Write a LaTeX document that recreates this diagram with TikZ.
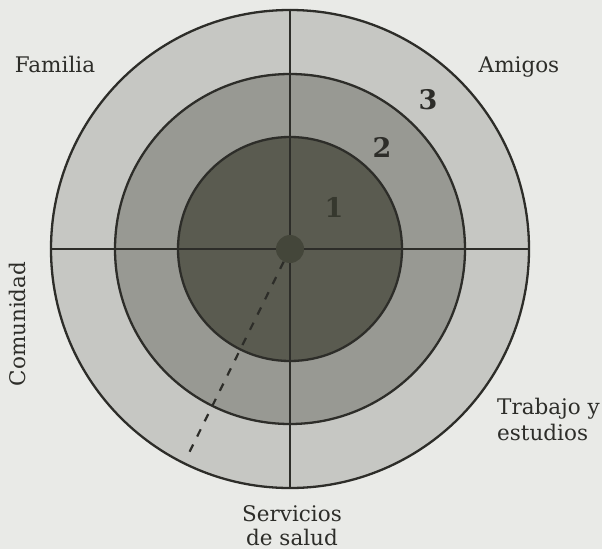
\documentclass[tikz,border=0pt]{standalone}
\usepackage{fontspec}
\setmainfont{DejaVu Serif}
\usetikzlibrary{positioning}
\definecolor{paper}{RGB}{233,234,231}
\definecolor{ringout}{RGB}{198,199,195}
\definecolor{ringmid}{RGB}{152,153,147}
\definecolor{ringin}{RGB}{90,91,80}
\definecolor{hubc}{RGB}{68,70,58}
\definecolor{ink}{RGB}{45,45,41}

\begin{document}
\begin{tikzpicture}[
  x=1pt, y=-1pt,
  ring/.style={circle, draw=ink, line width=2.3pt, inner sep=0pt},
  axis/.style={draw=ink, line width=2.3pt},
  lbl/.style={text=ink, font=\fontsize{21.5}{26}\selectfont, inner sep=0pt},
  num/.style={text=ink, font=\fontsize{27}{27}\selectfont\bfseries, inner sep=0pt}
]
\fill[paper] (0,0) rectangle (602,549);
\coordinate (c) at (290,249);
% the three rings
\node[ring, fill=ringout, minimum size=478pt] (outer) at (c) {};
\node[ring, fill=ringmid, minimum size=350pt] (mid) at (c) {};
\node[ring, fill=ringin, minimum size=224pt] (inner) at (c) {};
\draw[axis] (outer.north) -- (outer.south);
\draw[axis] (outer.west) -- (outer.east);
\node[circle, fill=hubc, minimum size=28pt, inner sep=0pt] (hub) at (c) {};
\coordinate (tip) at (187,457);
\draw[ink, line width=2.2pt, dash pattern=on 8pt off 9pt] (hub) -- (tip);
% ring numbers
\node[num] (n3) at (428,100) {3};
\node[num] (n2) at (382,147) {2};
\node[num, text=hubc!80!black] (n1) at (334,207) {1};
% sector labels
\node[lbl, anchor=base] (fam) at (55,72) {Familia};
\node[lbl, anchor=base] (ami) at (519,72) {Amigos};
\node[lbl, anchor=base, rotate=90] (com) at (25,324) {Comunidad};
\node[lbl, anchor=base west, align=left] (tra) at (497,440) {Trabajo y\\estudios};
\node[lbl, anchor=base, align=center, font=\fontsize{21.5}{23.5}\selectfont] (ser) at (292,545) {Servicios\\de salud};
\end{tikzpicture}
\end{document}
